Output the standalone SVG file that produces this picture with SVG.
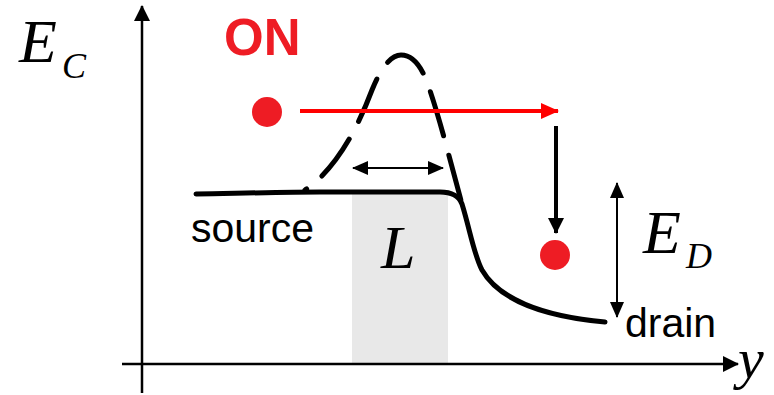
<svg xmlns="http://www.w3.org/2000/svg" width="774" height="395" viewBox="0 0 774 395">
  <style>
    .axis { stroke: #000; stroke-width: 2.5; fill: none; }
    .band { stroke: #000; stroke-width: 5; fill: none; stroke-linecap: round; stroke-linejoin: round; }
    .thin { stroke: #000; stroke-width: 2; fill: none; }
    .sym { font-family: "Liberation Serif", "Times New Roman", serif; font-style: italic; fill: #000; }
    .lbl { font-family: "Liberation Sans", Arial, sans-serif; fill: #000; }
    .dot { fill: #ee1c24; }
  </style>
  <defs>
    <marker id="headBig" markerWidth="16" markerHeight="16" refX="15" refY="8" orient="auto" markerUnits="userSpaceOnUse">
      <path d="M0,0 L16,8 L0,16 Z" fill="#000"/>
    </marker>
    <marker id="headSmall" markerWidth="16" markerHeight="14" refX="15" refY="7" orient="auto-start-reverse" markerUnits="userSpaceOnUse">
      <path d="M0,0 L16,7 L0,14 Z" fill="#000"/>
    </marker>
    <marker id="headRed" markerWidth="18" markerHeight="18" refX="17" refY="9" orient="auto" markerUnits="userSpaceOnUse">
      <path d="M0,1 L18,9 L0,17 Z" fill="#ff0000"/>
    </marker>
  </defs>

  <!-- channel region -->
  <rect x="352" y="194" width="96" height="170" fill="#e8e8e8"/>

  <!-- axes -->
  <g id="axes">
    <line class="axis" x1="142" y1="393" x2="142" y2="6" marker-end="url(#headBig)"/>
    <line class="axis" x1="122" y1="364" x2="738" y2="364" marker-end="url(#headBig)"/>
    <text class="sym" x="738" y="378" font-size="58">y</text>
    <text class="sym" x="19" y="62" font-size="62">E</text>
    <text class="sym" x="62" y="78" font-size="36">C</text>
  </g>

  <!-- conduction band edge: solid (ON state) and dashed barrier (OFF state) -->
  <g id="band">
    <path class="band" d="M196,194 C250,193 290,192 320,192 L440,192 C452,192 459,196 462,204 C470,230 474,255 482,270 C498,298 540,316 605,322"/>
    <path class="band" stroke-linecap="butt" stroke-dasharray="46 20" stroke-dashoffset="44" d="M305,190 C335,170 357,130 372,90 C382,65 392,55 401,55 C412,55 420,64 427,82 C440,118 451,165 462,204"/>
  </g>

  <g id="labels">
    <text class="lbl" x="191" y="242" font-size="41">source</text>
    <text class="lbl" x="625" y="337" font-size="41">drain</text>
    <text class="lbl" x="224" y="55" font-size="51" font-weight="bold" style="fill:#ee1c24">ON</text>
    <text class="sym" x="381" y="268" font-size="62">L</text>
    <text class="sym" x="643" y="253" font-size="62">E</text>
    <text class="sym" x="686" y="268" font-size="36">D</text>
  </g>

  <!-- connectors -->
  <g id="connectors">
    <line class="thin" x1="353" y1="168" x2="443" y2="168" marker-start="url(#headSmall)" marker-end="url(#headSmall)"/>
    <line class="thin" x1="617" y1="183" x2="617" y2="317" marker-start="url(#headSmall)" marker-end="url(#headSmall)"/>
    <line x1="300" y1="111" x2="558" y2="111" stroke="#ff0000" stroke-width="4" marker-end="url(#headRed)"/>
    <line x1="556" y1="126" x2="556" y2="233" stroke="#000" stroke-width="4" marker-end="url(#headBig)"/>
  </g>

  <!-- electrons -->
  <g id="electrons">
    <circle class="dot" cx="267" cy="112" r="15"/>
    <circle class="dot" cx="555" cy="255" r="15"/>
  </g>
</svg>
